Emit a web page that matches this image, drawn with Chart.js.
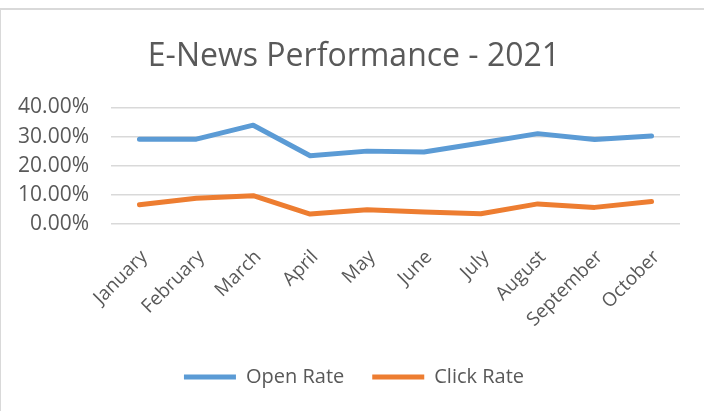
<!DOCTYPE html>
<html>
<head>
<meta charset="utf-8">
<title>E-News Performance - 2021</title>
<script src="https://cdn.jsdelivr.net/npm/chart.js@4.4.1/dist/chart.umd.min.js"></script>
<style>
  html, body { margin: 0; padding: 0; background: #fff; }
  #wrap { width: 704px; height: 411px; position: relative; }
</style>
</head>
<body>
<div id="wrap"><canvas id="chart" width="704" height="411"></canvas></div>
<script>
// months shown on the x axis
const months = ['January', 'February', 'March', 'April', 'May', 'June', 'July', 'August', 'September', 'October'];
// rates as fractions
const openRate = [0.291, 0.291, 0.339, 0.234, 0.250, 0.247, 0.278, 0.310, 0.290, 0.302];
const clickRate = [0.066, 0.088, 0.097, 0.034, 0.049, 0.041, 0.035, 0.069, 0.057, 0.077];
// y axis: 0% to 40% in steps of 10%
const yMin = 0;
const yMax = 0.4;
const yStep = 0.1;

const textColor = '#595959';
const fontFamily = "'Open Sans', 'Liberation Sans', sans-serif";

// light frame along the top and left edge
const framePlugin = {
    id: 'frame',
    beforeDraw(chart) {
        const ctx = chart.ctx;
        ctx.save();
        ctx.fillStyle = '#d9d9d9';
        ctx.fillRect(0, 8, 704, 2);
        ctx.fillRect(0, 8, 1, 411);
        ctx.restore();
    }
};

// title and legend are centred on the whole page, not on the padded box
const centrePlugin = {
    id: 'centre',
    afterLayout(chart) {
        [chart.titleBlock, chart.legend].forEach(b => {
            if (!b) return;
            b.left += 7;
            b.right += 7;
        });
    }
};

const ctx = document.getElementById('chart').getContext('2d');
new Chart(ctx, {
    type: 'line',
    data: {
        labels: months,
        datasets: [{
            label: 'Open Rate',
            data: openRate,
            borderColor: '#5b9bd5',
            backgroundColor: '#5b9bd5',
            borderWidth: 5,
            borderCapStyle: 'round',
            borderJoinStyle: 'round',
            pointRadius: 0,
            tension: 0
        }, {
            label: 'Click Rate',
            data: clickRate,
            borderColor: '#ed7d31',
            backgroundColor: '#ed7d31',
            borderWidth: 5,
            borderCapStyle: 'round',
            borderJoinStyle: 'round',
            pointRadius: 0,
            tension: 0
        }]
    },
    options: {
        responsive: false,
        animation: false,
        layout: { padding: { top: 0, left: 14, right: 24, bottom: 14 } },
        plugins: {
            title: {
                display: true,
                text: 'E-News Performance - 2021',
                color: textColor,
                font: { family: fontFamily, size: 32, weight: 'normal' },
                padding: { top: 38, bottom: 31 }
            },
            legend: {
                position: 'bottom',
                labels: {
                    color: textColor,
                    font: { family: fontFamily, size: 20 },
                    boxWidth: 52,
                    boxHeight: 5,
                    padding: 28,
                    generateLabels(chart) {
                        const items = Chart.defaults.plugins.legend.labels.generateLabels(chart);
                        items.forEach(it => { it.lineWidth = 0; });
                        return items;
                    }
                }
            },
            tooltip: { enabled: false }
        },
        scales: {
            x: {
                offset: true,
                grid: { display: false },
                border: { display: false },
                ticks: {
                    color: textColor,
                    font: { family: fontFamily, size: 19 },
                    minRotation: 45,
                    maxRotation: 45,
                    padding: 14,
                    labelOffset: 5
                },
                afterFit(scale) { scale.height = 115; }
            },
            y: {
                min: yMin,
                max: yMax,
                grid: { color: '#d9d9d9', lineWidth: 1.5, drawTicks: false },
                border: { display: false },
                ticks: {
                    color: textColor,
                    font: { family: fontFamily, size: 21 },
                    padding: 22,
                    stepSize: yStep,
                    callback: v => (v * 100).toFixed(2) + '%'
                },
                afterFit(scale) { scale.width = 97; }
            }
        }
    },
    plugins: [framePlugin, centrePlugin]
});
</script>
</body>
</html>
